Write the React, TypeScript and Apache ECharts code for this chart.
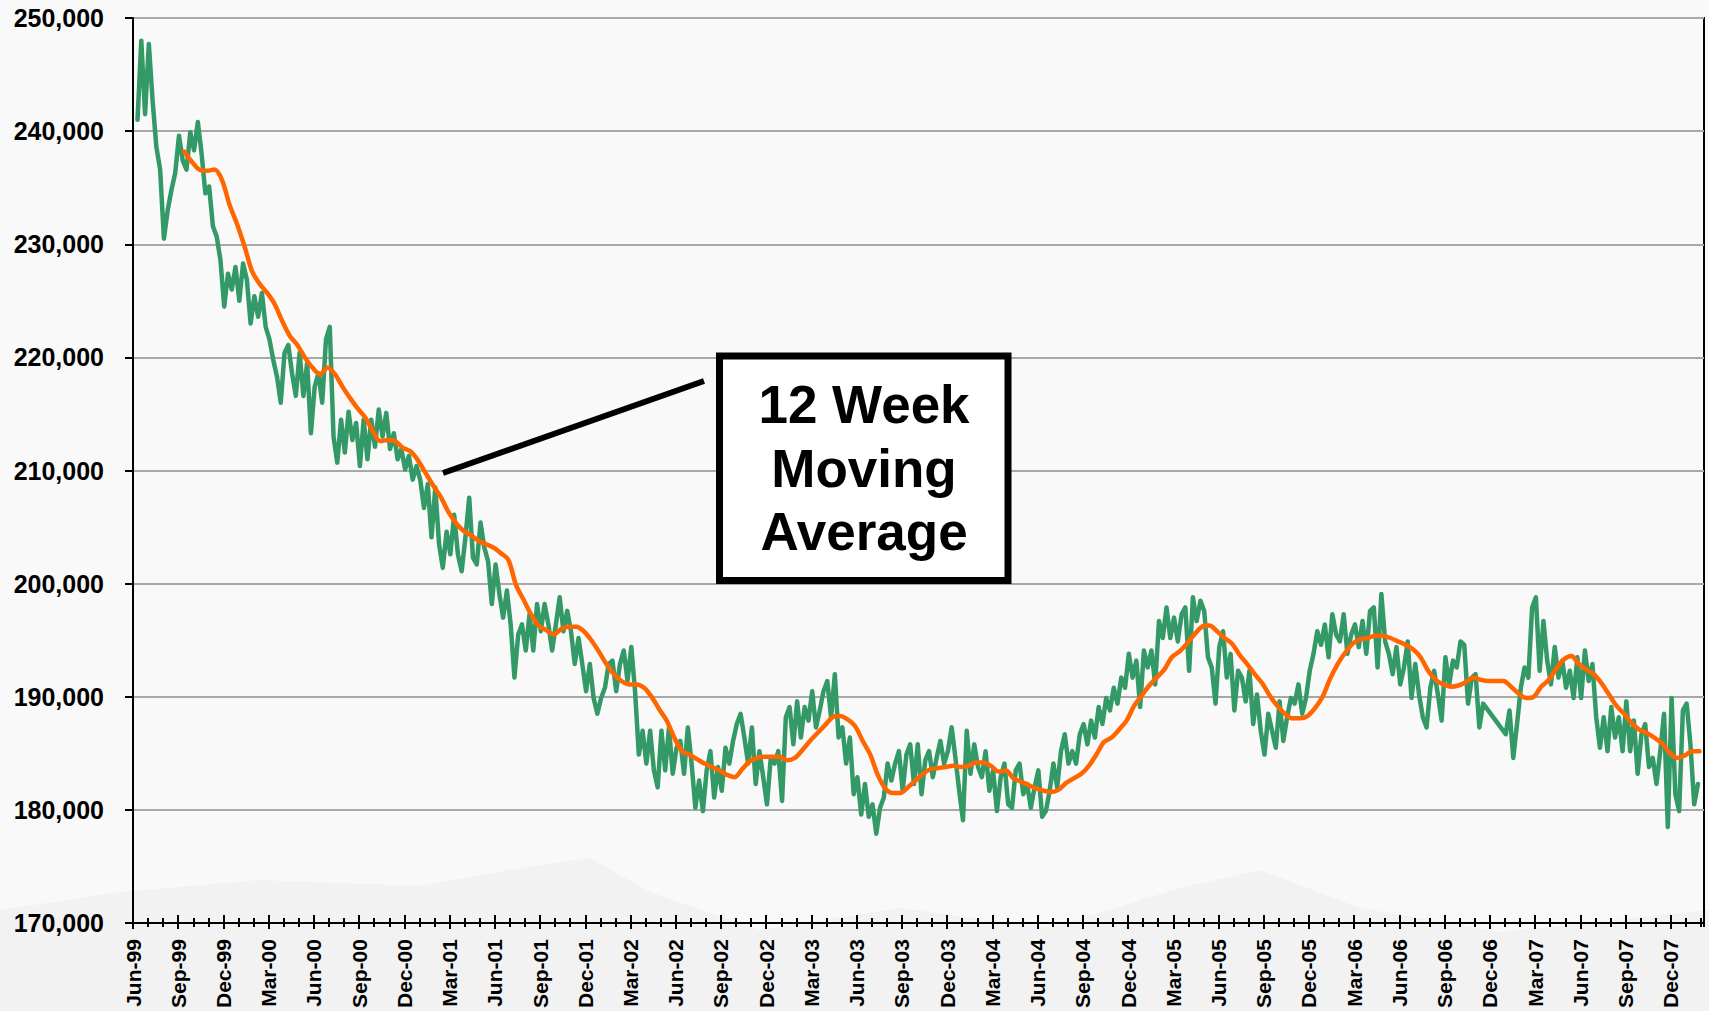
import React, { useEffect, useRef } from 'react';
import * as echarts from 'echarts';

// Tick labels of the x axis (one every 3 months, starting Jun-99 at month 0)
const xTickLabels = [
  'Jun-99', 'Sep-99', 'Dec-99', 'Mar-00', 'Jun-00', 'Sep-00', 'Dec-00', 'Mar-01', 'Jun-01',
  'Sep-01', 'Dec-01', 'Mar-02', 'Jun-02', 'Sep-02', 'Dec-02', 'Mar-03', 'Jun-03', 'Sep-03',
  'Dec-03', 'Mar-04', 'Jun-04', 'Sep-04', 'Dec-04', 'Mar-05', 'Jun-05', 'Sep-05', 'Dec-05',
  'Mar-06', 'Jun-06', 'Sep-06', 'Dec-06', 'Mar-07', 'Jun-07', 'Sep-07', 'Dec-07',
];

// Weekly readings of the daily series (x in months since 1 Jun 1999)
const dailyStart = 0.3;
const dailyStep = 0.25;
const daily1999 = [241000, 248000, 241500, 247700, 242700, 238600, 236600, 230500, 233000, 234800, 236300, 239600, 237400, 236600, 239900, 238300, 240800, 238000, 234500, 235100, 231600, 230700, 228600, 224500, 227400, 226000, 228000];
const daily2000 = [225000, 228300, 226900, 223000, 225400, 223600, 225700, 222700, 221600, 219800, 218300, 216000, 220400, 221100, 218600, 216600, 220400, 216600, 219500, 213300, 217400, 218600, 216000, 221600, 222700, 213000, 210700, 214500, 211600, 215200, 212700, 214200, 210400, 214500, 211000, 214500, 212100, 215400, 213000, 215100, 211900, 213300, 211000, 211900, 210100, 211300, 209200, 210400];
const daily2001 = [209200, 206700, 208800, 204100, 208500, 203500, 201400, 204600, 202600, 206100, 202600, 201100, 204100, 207600, 202300, 201700, 205400, 203200, 202000, 198200, 201700, 199100, 197000, 199400, 196400, 191700, 195500, 196400, 194100, 197300, 194100, 198200, 195800, 198200, 196400, 194100, 196400, 198800, 195800, 197600, 195800, 192900, 195200, 192900, 190500, 192900, 189900, 188500];
const daily2002 = [189900, 190800, 192900, 193200, 190500, 192900, 194100, 191400, 194400, 190500, 184900, 187000, 184100, 187000, 183500, 182000, 187000, 183500, 187300, 183200, 185500, 186100, 183200, 187300, 184100, 180200, 182600, 179900, 183500, 185200, 181100, 183800, 181700, 185500, 184100, 186100, 187600, 188500, 186400, 184100, 187300, 182300, 185200, 182900, 180500, 184600, 184100, 185200];
const daily2003 = [180800, 188200, 189100, 185800, 189600, 186400, 189100, 187900, 190500, 187300, 188800, 190500, 191400, 188200, 192000, 186400, 187300, 184100, 186400, 181400, 182900, 179600, 182300, 179400, 180500, 177900, 180200, 181100, 184100, 182600, 184100, 185200, 181700, 184900, 185800, 182300, 185800, 181400, 184400, 185200, 182900, 184600, 186100, 184100, 185200, 187300, 184600, 181700];
const daily2004 = [179100, 187000, 183200, 185800, 183800, 182900, 185200, 181700, 183500, 179900, 182900, 184100, 180500, 180200, 183500, 184100, 181400, 182300, 180200, 182000, 183500, 179400, 179900, 181700, 184100, 182000, 185200, 186700, 184100, 185200, 184100, 186700, 187600, 185800, 187900, 186400, 189100, 187600, 189900, 188800, 190800, 189400, 191700, 190800, 193800, 191700, 193200, 189100];
const daily2005 = [194100, 192600, 194100, 191100, 196700, 195200, 197900, 195200, 197000, 194900, 197300, 197900, 192300, 198800, 196700, 198500, 197600, 193500, 192600, 189400, 194400, 195800, 191700, 193800, 188800, 192300, 191700, 189600, 192300, 187600, 190200, 187000, 184900, 188500, 187000, 185500, 189600, 186100, 188200, 189900, 189400, 191100, 188500, 189900, 192300, 193800, 195800, 194600];
const daily2006 = [196400, 193500, 197300, 195500, 194900, 197300, 193800, 195500, 196400, 194400, 196700, 193800, 197600, 197900, 192600, 199100, 194900, 193800, 192000, 194400, 191100, 192600, 194900, 189900, 192900, 190200, 188200, 187300, 190800, 192300, 190200, 187900, 193500, 191100, 193200, 192600, 194900, 194600, 189400, 191700, 192000, 187300, 189400, null, null, null, null, null];
const daily2007 = [186700, 188800, 184600, 187600, 190800, 192600, 191700, 197900, 198800, 192300, 196700, 193200, 191100, 194400, 191700, 193200, 190800, 192300, 189900, 193500, 189900, 194100, 191400, 192900, 188200, 185500, 188200, 185200, 189100, 186400, 188200, 185200, 189600, 185200, 187900, 183200, 186700, 187600, 183800, 184600, 182300, 185200, 188500, 178500, 189900, 181400, 179900, 188800];
const daily2008 = [189400, 185800, 180500, 182300];

// 12 week moving average, read every half month
const maStart = 3.4;
const maStep = 0.5;
const ma1999 = [238200, 237300, 236600, 236500, 236600, 235700, 233500, 231800];
const ma2000 = [229800, 227600, 226500, 225700, 224700, 223200, 221900, 221100, 220000, 219100, 218500, 219100, 218500, 217400, 216400, 215500, 214700, 213500, 212600, 212700, 212600, 212000, 211700, 210900];
const ma2001 = [209800, 208700, 207700, 206400, 205400, 204700, 204300, 203800, 203500, 203200, 202700, 202100, 199900, 198600, 197300, 196300, 195900, 195500, 196000, 196200, 196200, 195800, 195000, 194000];
const ma2002 = [192900, 192000, 191400, 191100, 191100, 190800, 190000, 188900, 187900, 186400, 185200, 184900, 184500, 184100, 183800, 183500, 183100, 182900, 183600, 184300, 184600, 184700, 184700, 184700];
const ma2003 = [184400, 184600, 185300, 186100, 186800, 187500, 188200, 188300, 188000, 187400, 186100, 184900, 183100, 181900, 181500, 181500, 182000, 182600, 183200, 183600, 183700, 183800, 183900, 183800];
const ma2004 = [183900, 184200, 184200, 183900, 183400, 183500, 182800, 182500, 182200, 181900, 181700, 181600, 181800, 182400, 182800, 183200, 183900, 184900, 186000, 186400, 187100, 187900, 189200, 190100];
const ma2005 = [191000, 191700, 192400, 193500, 194000, 194700, 195500, 196200, 196300, 195800, 195200, 194700, 193700, 192900, 192000, 191200, 190100, 189200, 188500, 188100, 188100, 188300, 189000, 190000];
const ma2006 = [191600, 192900, 193900, 194700, 195100, 195200, 195400, 195400, 195200, 194900, 194600, 194200, 193500, 192300, 191500, 191100, 190900, 191000, 191300, 191700, 191500, 191400, 191400, 191400];
const ma2007 = [190900, 190300, 189900, 190000, 190900, 191500, 192500, 193300, 193600, 192900, 192400, 192000, 191200, 190200, 189200, 188500, 187700, 187100, 186800, 186400, 185900, 185100, 184600, 184800];
const ma2008 = [185200, 185200];

const FONT = "'Liberation Sans', Arial, Helvetica, sans-serif";

export default function App() {
  const ref = useRef<HTMLDivElement>(null);

  useEffect(() => {
    if (!ref.current) return;
    const chart = echarts.init(ref.current, null, { renderer: 'svg' });

    const dailyValues = [
      ...daily1999, ...daily2000, ...daily2001, ...daily2002, ...daily2003,
      ...daily2004, ...daily2005, ...daily2006, ...daily2007, ...daily2008,
    ];
    const maValues = [
      ...ma1999, ...ma2000, ...ma2001, ...ma2002, ...ma2003,
      ...ma2004, ...ma2005, ...ma2006, ...ma2007, ...ma2008,
    ];
    const dailyData = dailyValues.map((v, i) => [dailyStart + dailyStep * i, v]);
    const maData = maValues.map((v, i) => [maStart + maStep * i, v]);

    const xMin = 0;
    const xMax = 104.2;

    const baseX = {
      type: 'value',
      position: 'bottom',
      min: xMin,
      max: xMax,
      splitLine: { show: false },
      axisLabel: { show: false },
      axisLine: { show: true, onZero: false, lineStyle: { color: '#000', width: 2 } },
    };

    const option: any = {
      animation: false,
      backgroundColor: '#f9f9f9',
      grid: {
        left: 133,
        right: 5,
        top: 18,
        bottom: 83,
        show: true,
        borderColor: '#000',
        borderWidth: 2,
        backgroundColor: 'transparent',
        containLabel: false,
      },
      xAxis: [
        {
          ...baseX,
          interval: 3,
          axisTick: { show: true, inside: false, length: 6, lineStyle: { color: '#000', width: 2 } },
          axisLabel: {
            show: true,
            rotate: 90,
            margin: 16,
            fontFamily: FONT,
            fontWeight: 'bold',
            fontSize: 21,
            color: '#000',
            showMaxLabel: false,
            formatter: (v: number) => {
              const k = Math.round(v / 3);
              if (Math.abs(v - k * 3) > 1e-6) return '';
              return xTickLabels[k] ?? '';
            },
          },
        },
        {
          ...baseX,
          interval: 3,
          axisTick: { show: true, inside: true, length: 8, lineStyle: { color: '#000', width: 2 } },
        },
        {
          ...baseX,
          interval: 1,
          axisTick: { show: true, inside: false, length: 4, lineStyle: { color: '#000', width: 2 } },
        },
        {
          ...baseX,
          interval: 1,
          axisTick: { show: true, inside: true, length: 5, lineStyle: { color: '#000', width: 2 } },
        },
      ],
      yAxis: {
        type: 'value',
        min: 170000,
        max: 250000,
        interval: 10000,
        axisLine: { show: true, lineStyle: { color: '#000', width: 2 } },
        axisTick: { show: true, inside: false, length: 8, lineStyle: { color: '#000', width: 2 } },
        splitLine: { show: true, lineStyle: { color: '#a8a8a8', width: 2 } },
        axisLabel: {
          margin: 29,
          fontFamily: FONT,
          fontWeight: 'bold',
          fontSize: 25,
          color: '#000',
          formatter: (v: number) => v.toLocaleString('en-US'),
        },
      },
      series: [
        {
          type: 'line',
          name: 'Daily',
          xAxisIndex: 0,
          data: dailyData,
          showSymbol: false,
          symbol: 'none',
          connectNulls: true,
          lineStyle: { color: '#339966', width: 4.5, join: 'round', cap: 'round' },
          z: 2,
        },
        {
          type: 'line',
          name: '12 Week Moving Average',
          xAxisIndex: 0,
          data: maData,
          showSymbol: false,
          symbol: 'none',
          smooth: 0.3,
          lineStyle: { color: '#ff6600', width: 4.5, join: 'round', cap: 'round' },
          z: 3,
        },
      ],
      graphic: [
        {
          type: 'polygon',
          z: -10,
          silent: true,
          shape: {
            points: [
              [0, 910], [120, 892], [260, 880], [420, 886], [520, 868], [590, 858], [650, 892],
              [760, 930], [900, 908], [1050, 928], [1180, 888], [1260, 870], [1360, 908],
              [1500, 932], [1709, 910], [1709, 1011], [0, 1011],
            ],
          },
          style: { fill: '#f2f2f2' },
        },
        {
          type: 'line',
          z: 100,
          shape: { x1: 443, y1: 473, x2: 704, y2: 381 },
          style: { stroke: '#000', lineWidth: 6 },
        },
        {
          type: 'rect',
          z: 100,
          shape: { x: 719.5, y: 356, width: 288.5, height: 224.5 },
          style: { fill: '#fff', stroke: '#000', lineWidth: 7 },
        },
        {
          type: 'text',
          z: 101,
          x: 864,
          y: 404,
          style: {
            text: '12 Week',
            fill: '#000',
            font: `bold 53px ${FONT}`,
            textAlign: 'center',
            textVerticalAlign: 'middle',
          },
        },
        {
          type: 'text',
          z: 101,
          x: 864,
          y: 468,
          style: {
            text: 'Moving',
            fill: '#000',
            font: `bold 53px ${FONT}`,
            textAlign: 'center',
            textVerticalAlign: 'middle',
          },
        },
        {
          type: 'text',
          z: 101,
          x: 864,
          y: 531,
          style: {
            text: 'Average',
            fill: '#000',
            font: `bold 53px ${FONT}`,
            textAlign: 'center',
            textVerticalAlign: 'middle',
          },
        },
      ],
    };

    chart.setOption(option);
    return () => chart.dispose();
  }, []);

  return (
    <div
      ref={ref}
      style={{ position: 'fixed', left: 0, top: 0, width: '1709px', height: '1011px' }}
    />
  );
}
